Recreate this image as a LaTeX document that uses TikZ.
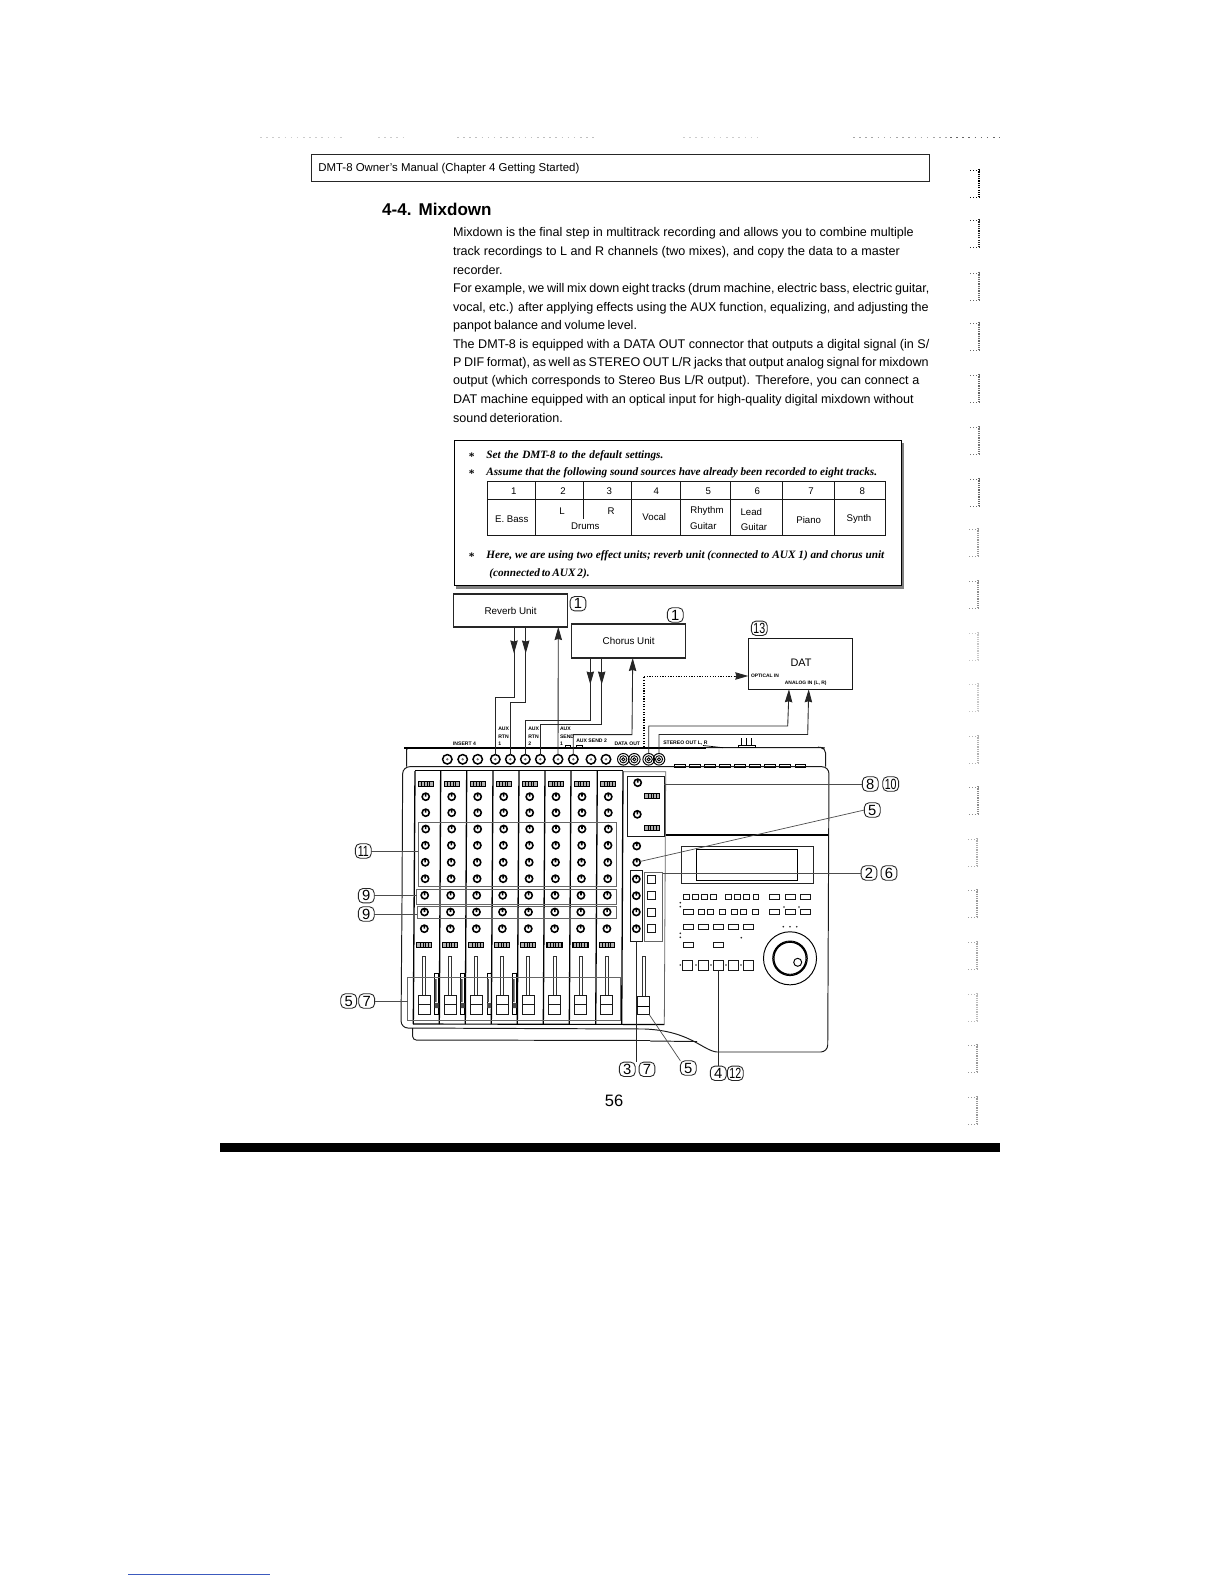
\documentclass[tikz,border=0pt]{standalone}
\usepackage{fontspec}
\setmainfont{Liberation Sans}
\newfontfamily\serifbi{Liberation Serif}[BoldItalicFont={Liberation Serif Bold Italic}]
\usetikzlibrary{arrows.meta,calc}
\newlength\pxlen \setlength\pxlen{0.02cm}
\newcommand\fsz[1]{\fontsize{#1}{#1}\selectfont}
% box node in pixel corners: name, x1,y1,x2,y2, style, text
\newcommand\bx[7]{\node[#6,minimum width={(#4-(#2))*0.02cm},minimum height={(#5-(#3))*0.02cm},inner sep=0pt,outer sep=0pt] (#1) at ({(#2+#4)/2},{(#3+#5)/2}) {#7};}
% text line stretched to a measured width
\newcommand\tl[6]{\node[anchor=base west,inner sep=0pt,#6] (#1) at (#2,#3) {\makebox[#4\pxlen][s]{#5}};}
\tikzset{
  >={Stealth[length=7.4pt,width=4.2pt,inset=.6pt]},
  wire/.style={line width=.5pt,draw=black!85},
  leader/.style={line width=.4pt,draw=black!70},
  panel/.style={line width=.55pt,draw=black!90},
  heavy/.style={line width=1pt,draw=black},
  unitbox/.style={draw=black!85,line width=.6pt,font=\fsz{5.6}},
  fitbox/.style={draw=black!60,line width=.45pt},
  plainbox/.style={draw=black!90,line width=.5pt},
  softbtn/.style={draw=black!90,line width=.55pt},
  knobline/.style={draw=black,line width=.9pt},
  meterline/.style={draw=black,line width=.7pt,fill=black!30},
  jack/.style={circle,draw=black,line width=.85pt,minimum size=5.4pt,inner sep=0pt,outer sep=0pt},
  ring/.style={circle,draw=black,line width=.55pt,minimum size=6.6pt,inner sep=0pt,outer sep=0pt},
  callout/.style={draw=black!85,line width=.5pt,rounded corners=2.6pt,minimum width=9pt,minimum height=8.2pt,inner sep=0pt,outer sep=0pt,font=\fsz{8.4}},
  tiny/.style={font=\bfseries\fsz{2.9},inner sep=0pt,outer sep=0pt,anchor=base west},
  celltxt/.style={font=\fsz{5.5},inner sep=0pt,outer sep=0pt},
  bodytxt/.style={font=\fsz{7.15}},
  notetxt/.style={font=\serifbi\bfseries\itshape\fsz{6.4}},
}
\begin{document}
\begin{tikzpicture}[x=0.02cm,y=-0.02cm]
\useasboundingbox (0,0) rectangle (1224,1584);

% scan specks, top
\foreach \sa/\sb/\sg in {260/344/20,378/403/20,457/595/25,683/757/20,853/950/35,950/1000/60}
  \draw[black!\sg,line width=.45pt,dash pattern=on .9pt off 2.6pt] (\sa,137) -- (\sb,137);
% scan marks, right margin
\foreach \st/\sg/\xr in {169/100/979,219/85/979,272/60/979,322/60/979,374/60/979,426/55/979,478/60/979,528/40/978,580/45/978,632/22/978,683/22/978,735/30/978,786/45/978,838/32/977,889/40/977,941/35/977,993/27/977,1044/40/977,1096/40/977}{
  \draw[black!\sg,line width=1pt,dash pattern=on .7pt off .6pt] (\xr,\st) -- (\xr,\st+28);
  \draw[black!\sg,line width=.5pt,dash pattern=on .8pt off .9pt] (\xr-9,\st+1) -- (\xr,\st+1) (\xr-9,\st+28) -- (\xr,\st+28);
}

% header
\bx{hdr}{311.5}{154.5}{929}{181}{draw=black!85,line width=.55pt}{}
\tl{hdrtxt}{318}{171.5}{261}{DMT-8 Owner's Manual (Chapter 4  Getting Started)}{font=\fsz{6.5}}
\tl{sect}{381.8}{216}{109.5}{\bfseries 4-4. Mixdown}{font=\fsz{9.7}}

% body
\tl{l1}{452.7}{237}{460.7}{Mixdown is the final step in multitrack recording and allows you to combine multiple}{bodytxt}
\tl{l2}{452.7}{255.6}{446.7}{track recordings to L and R channels (two mixes), and copy the data to a master}{bodytxt}
\tl{l3}{452.7}{274.2}{48}{recorder.}{bodytxt}
\tl{l4}{452.7}{292.8}{476.3}{For example, we will mix down eight tracks (drum machine, electric bass, electric guitar,}{bodytxt}
\tl{l5}{452.7}{311.4}{475.7}{vocal, etc.) after applying effects using the AUX function, equalizing, and adjusting the}{bodytxt}
\tl{l6}{452.7}{330}{184}{panpot balance and volume level.}{bodytxt}
\tl{l7}{452.7}{348.2}{476.3}{The DMT-8 is equipped with a DATA OUT connector that outputs a digital signal (in S/}{bodytxt}
\tl{l8}{452.7}{366.6}{475.7}{P DIF format), as well as STEREO OUT L/R jacks that output analog signal for mixdown}{bodytxt}
\tl{l9}{452.7}{385}{466.3}{output (which corresponds to Stereo Bus L/R output).  Therefore, you can connect a}{bodytxt}
\tl{l10}{452.7}{403.4}{460.7}{DAT machine equipped with an optical input for high-quality digital mixdown without}{bodytxt}
\tl{l11}{452.7}{422}{109}{sound deterioration.}{bodytxt}

% note box
\draw[black!50,line width=1.5pt] (903,443) -- (903,587.5) -- (456,587.5);
\bx{note}{454.7}{440.7}{901.7}{585.7}{draw=black,line width=.65pt}{}
\foreach \yy/\nm in {458/a,475/b,558.5/c}
  \node[font=\serifbi\bfseries\fsz{6.5},inner sep=0pt,anchor=base] (star\nm) at (471.7,\yy+2) {*};
\tl{n1}{486}{458}{177}{Set the DMT-8 to the default settings.}{notetxt}
\tl{n2}{486}{475}{390.7}{Assume that the following sound sources have already been recorded to eight tracks.}{notetxt}
\tl{n3}{486}{558.5}{398}{Here, we are using two effect units; reverb unit (connected to AUX 1) and chorus unit}{notetxt}
\tl{n4}{489}{576}{100}{(connected to AUX 2).}{notetxt}

% track table
\bx{tbl}{487}{481.7}{885.7}{535.7}{draw=black!90,line width=.55pt}{}
\draw[black!90,line width=.55pt] (tbl.west |- 0,499.3) -- (tbl.east |- 0,499.3);
\foreach \xx in {535.7,631.7,680,730,782.3,834}
  \draw[black!90,line width=.55pt] (\xx,481.7) -- (\xx,535.7);
\draw[black!90,line width=.55pt] (583.7,481.7) -- (583.7,519.3);
\foreach \xx/\lbl [count=\i] in {513.7/1,563/2,609.3/3,656.3/4,708.3/5,757.3/6,811/7,862.3/8}
  \node[celltxt] (hd\i) at (\xx,491) {\lbl};
\node[celltxt] (c1) at (511.7,519) {E. Bass};
\node[celltxt] (c2) at (562,511) {L};
\node[celltxt] (c3) at (611,511) {R};
\node[celltxt] (c4) at (585.3,526.7) {Drums};
\node[celltxt] (c5) at (654.3,516.7) {Vocal};
\node[celltxt] (c6) at (707,511.3) {Rhythm};
\node[celltxt] (c7) at (703.3,526) {Guitar};
\node[celltxt] (c8) at (751.3,511.7) {Lead};
\node[celltxt] (c9) at (754,526.7) {Guitar};
\node[celltxt] (c10) at (808.7,519.7) {Piano};
\node[celltxt] (c11) at (859,518.7) {Synth};

% external units
\bx{rev}{453.5}{594}{567.7}{627}{unitbox}{Reverb Unit}
\bx{cho}{571.7}{624}{685.7}{658}{unitbox}{Chorus Unit}
\bx{dat}{748.3}{638.3}{852.3}{689.3}{draw=black!90,line width=.65pt}{}
\node[font=\fsz{6.2},inner sep=0pt] (dattxt) at (801,663) {DAT};
\node[font=\bfseries\fsz{2.8},inner sep=0pt] (optin) at (765,676) {OPTICAL IN};
\node[font=\bfseries\fsz{2.8},inner sep=0pt] (anain) at (805.7,683) {ANALOG IN (L, R)};
\node[callout] (q1) at (578,603.7) {1};
\node[callout] (q2) at (675.3,615) {1};
\node[callout] (q13) at (759.3,628.3) {\scalebox{.72}[1]{13}};

% rear panel
\draw[panel] (406.7,766.7) -- (406.7,750) [rounded corners=1pt] -- (406.7,747.7) -- (823,747.7) [rounded corners=3pt] -- (825.7,748) -- (825.7,766.7);
\draw[heavy] (404,747.7) -- (706,747.7);
\draw[draw=black,line width=.5pt] \foreach \xx in {674.3,689.3,704.7,719.3,734.3,749.3,764.3,779.3,795} { (\xx,764.6) rectangle (\xx+10.7,767) };
\foreach \xx [count=\i] in {447.3,462.7,477.7,495.3,510.3,525.3,540.3,558,573.3,591,606}
  {\node[jack] (j\i) at (\xx,759.3) {}; \fill[black!60] (j\i.center) circle (1.3);}
\foreach \xx/\nm in {623.3/da,634.3/db,648.7/sa,659/sb}
  {\node[ring] (r\nm) at (\xx,759.3) {}; \draw[line width=.5pt] (\xx,759.3) circle (3.6) (\xx,759.3) circle (1.6);}
\node[tiny] (tins) at (453,745) {INSERT 4};
\foreach \xx/\nm/\aa/\bb/\cc in {498.3/ra/AUX/RTN/1,528.3/rb/AUX/RTN/2,560/sn/AUX/SEND/1}{
  \node[tiny] (t\nm a) at (\xx,730.5) {\aa};
  \node[tiny] (t\nm b) at (\xx,738) {\bb};
  \node[tiny] (t\nm c) at (\xx,745.5) {\cc};
}
\node[tiny] (tsnd) at (576.3,742) {AUX SEND 2};
\node[tiny] (tdat) at (614.5,745) {DATA OUT};
\node[tiny] (tste) at (663.3,744.5) {STEREO OUT L, R};
\draw[line width=.4pt] (565,745) rectangle (570.7,747.7) (576.7,745) rectangle (582.3,747.7) (738,745) rectangle (755,747.7);
\draw[line width=.5pt] (741.7,738.3) -- (741.7,745) (746.7,738.3) -- (746.7,745) (751.7,738.3) -- (751.7,745);
\draw[line width=.4pt] (703,745.5) -- (723,747.7);

% connectors
\coordinate (revA) at (514,627);
\coordinate (revB) at (525.7,627);
\coordinate (revC) at (558.3,627);
\coordinate (choA) at (590.3,658);
\coordinate (choB) at (601.7,658);
\coordinate (choC) at (632.7,658);
\coordinate (datA) at (789,689.3);
\coordinate (datB) at (808.7,689.3);
\coordinate (datO) at (748.3,676);
\coordinate (dataout) at (644,747);
\draw[wire,->] (revA) -- ++(0,26.5);
\draw[wire] (revA) -- ++(0,70) -| (j4.north);
\draw[wire,->] (revB) -- ++(0,26.5);
\draw[wire] (revB) -- ++(0,75.3) -| (j5.north);
\draw[wire,->] (choA) -- ++(0,26.5);
\draw[wire] (choA) -- ++(0,62.3) -| (j6.north);
\draw[wire,->] (choB) -- ++(0,26.5);
\draw[wire] (choB) -- ++(0,66) -| (j7.north);
\draw[wire,->] (j8.north) -- (revC);
\draw[wire,->] (j9.north) |- ++(58.7,-20) -- (choC);
\draw[wire,->] (rsa.north) |- ++(139,-27.5) -- (datA);
\draw[wire,->] (rsb.north) |- ++(148.7,-19) -- (datB);
\draw[line width=.7pt,dash pattern=on .7pt off .8pt,black] (dataout) -- (644,676);
\draw[line width=.55pt,dash pattern=on .7pt off .8pt,black] (644,676) -- ($(datO)+(-12,0)$);
\draw[wire,->] ($(datO)+(-13,0)$) -- (datO);

% main body
\draw[panel,rounded corners=4pt] (402,900) -- (402.7,766.7) -- (829,766.7) -- (827.7,1052) -- (716.7,1052);
\draw[panel] (716.7,1052) .. controls (702,1050) and (690,1031) .. (645,1029);
\draw[panel,rounded corners=4pt] (645,1029) -- (401,1028) -- (402,900);
\draw[panel,rounded corners=2pt] (412.7,1028) -- (412.7,1040) -- (650,1040.5);
\draw[panel] (650,1041) -- (697,1041.5);
\draw[line width=1.1pt] (665,834.7) -- (828,834.7);

% channel strips
\draw[line width=.75pt] \foreach \ta/\ba in {415/413.3,440.7/439.3,466.7/465.3,493/491.3,519/517.3,545/543.3,571/569.3,597.3/595.7,623/621.7} { (\ta,771) -- (\ba,1024) };
\draw[line width=.55pt] (415,770.7) -- (623,770.7);
\draw[line width=.65pt] (413,1024) -- (664.3,1024.5);
\draw[fitbox] (623,771.7) -- (665.7,771.7) -- (664.3,1024.5);

% inter-channel parts behind the faders
\draw[line width=.5pt] \foreach \xx in {436.7,462.7,489,514.7} { (\xx-2,973) rectangle (\xx+2,1014) };
\fill[black!70] \foreach \xx in {436.7,462.7,489,514.7} { (\xx-2,979) rectangle (\xx-.2,1002) (\xx-2,1003) rectangle (\xx+2,1008) };

% knobs of the eight channels
\draw[knobline] \foreach \cx in {425.7,451.7,477.7,503.7,529.7,556,582,608.3} {
  \foreach \ky/\kd in {796.7/0,812.7/0,829/0,845.3/-.3,862.3/-.5,878.7/-.6,895.3/-1,912/-1.2,928.7/-1.4} {
    (\cx+\kd,\ky) circle (3.6) (\cx+\kd,\ky) -- ++(0,-2.8) } };
% meters
\foreach \cx in {425.7,451.7,477.7,503.7,529.7,556,582,608.3}{
  \draw[meterline] (\cx-7.5,781.5) rectangle (\cx+7.5,786.5) (\cx-8.9,942.2) rectangle (\cx+6.1,947.2);
  \draw[line width=.5pt] (\cx-4,781.5) -- (\cx-4,786.5) (\cx-1.3,781.5) -- (\cx-1.3,786.5) (\cx+1.3,781.5) -- (\cx+1.3,786.5) (\cx+4,781.5) -- (\cx+4,786.5)
     (\cx-5.4,942.2) -- (\cx-5.4,947.2) (\cx-2.7,942.2) -- (\cx-2.7,947.2) (\cx-.1,942.2) -- (\cx-.1,947.2) (\cx+2.6,942.2) -- (\cx+2.6,947.2);
}
% faders
\draw[draw=black!80,line width=.5pt] \foreach \cx in {425.7,451.7,477.7,503.7,529.7,556,582,608.3} { (\cx-3,956) rectangle (\cx,996) };
\foreach \cx in {425.7,451.7,477.7,503.7,529.7,556,582,608.3}
  \filldraw[draw=black!90,fill=white,line width=.55pt] (\cx-7.4,995.7) rectangle (\cx+4.6,1014) (\cx-7.4,1004.7) -- (\cx+4.6,1004.7);

% group frames
\bx{r11}{418}{822.7}{616.7}{886.7}{fitbox}{}
\bx{r9a}{416.7}{889.7}{616.7}{904}{fitbox}{}
\bx{r9b}{417.3}{906.7}{616}{918}{fitbox}{}
\bx{r57}{407.7}{977}{620}{1020.7}{fitbox}{}

% master section
\bx{rmst}{627.7}{776.7}{664.3}{836}{plainbox}{}
\draw[knobline] \foreach \qx/\qy in {637.7/782.7,637.3/814.3,636.7/846,636.7/862.3,636.3/879,636.3/895.7,636.3/912,636.3/928.7} { (\qx,\qy) circle (3.6) (\qx,\qy) -- ++(0,-2.8) };
\coordinate (mk4) at (640,861.5);
\coordinate (mq4) at (636.3,941);
\foreach \qx/\qy in {652.3/796.3,652/827.7} {
  \draw[meterline] (\qx-7.5,\qy-2.5) rectangle (\qx+7.5,\qy+2.5);
  \draw[line width=.5pt] (\qx-4,\qy-2.5) -- (\qx-4,\qy+2.5) (\qx-1.3,\qy-2.5) -- (\qx-1.3,\qy+2.5) (\qx+1.3,\qy-2.5) -- (\qx+1.3,\qy+2.5) (\qx+4,\qy-2.5) -- (\qx+4,\qy+2.5);
}
\bx{rknob}{630.3}{870.7}{642.7}{941}{plainbox}{}
\bx{rbtn}{644.3}{872.3}{662.7}{941}{fitbox}{}
\draw[softbtn] \foreach \yy in {879,895.7,912,928.7} { (647.3,\yy-4) rectangle (655.3,\yy+4) };
\draw[draw=black!80,line width=.5pt] (642.3,956.7) rectangle (645.3,996.7);
\bx{mfd}{637.3}{996.7}{649.3}{1014.7}{draw=black!90,line width=.55pt,fill=white}{}
\draw[line width=.55pt] (637.3,1006) -- (649.3,1006);

% display
\bx{disp}{681}{846}{813}{883.3}{draw=black!85,line width=.45pt}{}
\bx{dispin}{696.3}{849.3}{797.7}{880.3}{draw=black,line width=.5pt}{}

% buttons
\draw[softbtn] \foreach \xx in {686.3,695.3,704.3,713.7,728.7,737.7,746.7,756} { (\xx-2.8,894) rectangle (\xx+2.8,899.4) };
\draw[softbtn] \foreach \xx in {774.7,790,805.3} { (\xx-5,894.2) rectangle (\xx+5,899.2) (\xx-5,909.2) rectangle (\xx+5,914.2) };
\draw[softbtn] (683,909.2) rectangle (693,914.2);
\draw[softbtn] \foreach \xx in {701.7,710.3,722.3,734.7,743.7,755.7} { (\xx-2.8,909) rectangle (\xx+2.8,914.4) };
\draw[softbtn] \foreach \xx in {688,703,718,733.3,748.7} { (\xx-5,924.2) rectangle (\xx+5,929.2) };
\draw[softbtn] (683,942.2) rectangle (693,947.2) (713.3,942.2) rectangle (723.3,947.2);
\draw[softbtn] \foreach \xx in {687.7,703,733.3,748.7} { (\xx-5,960) rectangle (\xx+5,970) };
\bx{bh3}{713}{960}{723}{970}{softbtn}{}
\fill[black!85] \foreach \dotx/\doty in {680.3/902.7,680.3/906.7,784/907,799/907,680.3/933.3,680.3/937.3,741.3/937.7,783.3/926.7,790/926.7,796.7/926.7,680.3/965,696/965,711/965,726/965,741/965} { (\dotx,\doty) circle (.9) };

% dial
\node[circle,draw=black,line width=.55pt,minimum size=30.2pt,inner sep=0pt] (dial) at (790,958.3) {};
\draw[line width=.55pt] (790,958.3) circle (17.3) (790,958.3) circle (16) (797.7,962.3) circle (4);

% callouts and their leaders
\node[callout] (a11) at (363.3,851) {\scalebox{.72}[1]{11}};
\node[callout] (a9a) at (366.3,895.7) {9};
\node[callout] (a9b) at (366.3,914) {9};
\node[callout] (a5a) at (348.7,1001) {5};
\node[callout] (a7a) at (366.7,1001) {7};
\node[callout] (a8) at (870.3,784) {8};
\node[callout] (a10) at (890.7,784) {\scalebox{.72}[1]{10}};
\node[callout] (a5b) at (872.3,810) {5};
\node[callout] (a2) at (869,873) {2};
\node[callout] (a6) at (889,873) {6};
\node[callout] (a3) at (627.3,1069.3) {3};
\node[callout] (a7b) at (647,1069.3) {7};
\node[callout] (a5c) at (688.3,1068) {5};
\node[callout] (a4) at (718.3,1073.3) {4};
\node[callout] (a12) at (735.3,1073.3) {\scalebox{.72}[1]{12}};
\draw[leader] (a11.east) -- (r11.west |- a11.east);
\draw[leader] (a9a.east) -- (r9a.west |- a9a.east);
\draw[leader] (a9b.east) -- (r9b.west |- a9b.east);
\draw[leader] (a7a.east) -- (r57.west |- a7a.east);
\draw[leader] (a8.west) -- (rmst.east |- a8.west);
\draw[leader] (a5b.west) -- (mk4);
\draw[leader] (a2.west) -- (rbtn.east |- a2.west);
\draw[wire] (mq4) -- (a3.north -| mq4);
\draw[leader] (a5c.north west) -- (mfd.south east);
\draw[wire] (bh3.south) -- (bh3.south |- a4.north);

% page number and rule
\node[font=\fsz{9.4},inner sep=0pt] (pgno) at (614,1100.5) {56};
\fill[black] (220,1143) rectangle (1000,1152);
\draw[line width=.5pt,draw={rgb,255:red,60;green,90;blue,190}] (128,1574.6) -- (270,1574.6);
\end{tikzpicture}
\end{document}
